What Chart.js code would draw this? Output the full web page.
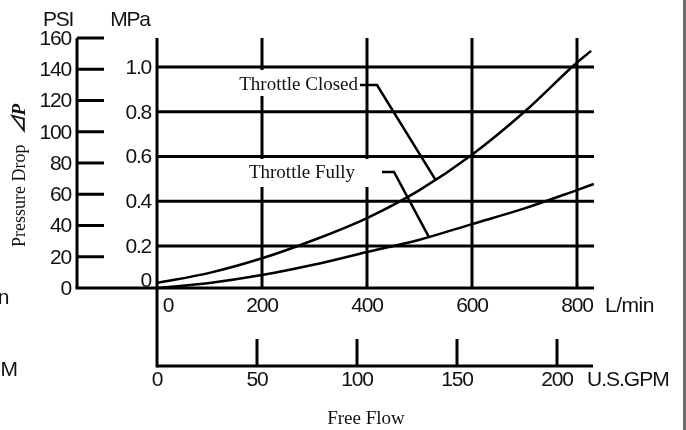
<html>

<head>
  <style>
    body { margin: 0; background: #fff; }
    canvas { display: block; }
  </style>
</head>

<body>
  <canvas id="dropChart" width="686" height="430"></canvas>

  <script src="https://cdn.jsdelivr.net/npm/chart.js"></script>
  <script>
    // flow in L/min, pressure drop in MPa
    const closedFlow = [0, 100, 200, 300, 400, 500, 600, 700, 800, 827];
    const closedMpa = [0.035, 0.08, 0.145, 0.228, 0.325, 0.45, 0.608, 0.80, 1.02, 1.072];
    const fullyFlow = [0, 100, 200, 300, 400, 500, 600, 700, 800, 832];
    const fullyMpa = [0.012, 0.035, 0.07, 0.117, 0.173, 0.228, 0.298, 0.368, 0.45, 0.477];

    // axis ticks
    const lpmTicks = [0, 200, 400, 600, 800];
    const gpmTicks = [0, 50, 100, 150, 200];
    const psiTicks = [0, 20, 40, 60, 80, 100, 120, 140, 160];
    const mpaTicks = [0, 0.2, 0.4, 0.6, 0.8, 1.0];

    const ink = '#111';
    const sans = '"Liberation Sans", Arial, sans-serif';
    const serif = '"Liberation Serif", "Times New Roman", serif';

    function line(ctx, x0, y0, x1, y1) {
      ctx.beginPath();
      ctx.moveTo(x0, y0);
      ctx.lineTo(x1, y1);
      ctx.stroke();
    }

    function label(ctx, text, x, y, align, font, spacing) {
      ctx.font = font;
      ctx.textAlign = align;
      ctx.textBaseline = 'middle';
      ctx.letterSpacing = spacing || '0px';
      ctx.fillText(text, x, y);
      ctx.letterSpacing = '0px';
    }

    // grid, the two pressure axes and the two flow axes
    const gridPlugin = {
      id: 'grid',
      beforeDraw(chart) {
        const ctx = chart.ctx;
        ctx.save();
        ctx.fillStyle = '#fff';
        ctx.fillRect(0, 0, chart.width, chart.height);
        ctx.restore();
      },
      beforeDatasetsDraw(chart) {
        const { ctx, chartArea, scales: { x, y, psi, gpm } } = chart;
        const psiX = 77, gpmY = 366, tick = 27;
        const x0 = x.getPixelForValue(0);
        const base = psi.getPixelForValue(0);
        ctx.save();
        ctx.strokeStyle = '#000';
        ctx.lineWidth = 3;

        lpmTicks.slice(1).forEach(v => {
          const px = x.getPixelForValue(v);
          line(ctx, px, chartArea.top, px, base);
        });
        mpaTicks.slice(1).forEach(v => {
          const py = y.getPixelForValue(v);
          line(ctx, x0, py, chartArea.right, py);
        });
        line(ctx, psiX - 1.5, base, chartArea.right, base);
        line(ctx, psiX, psi.getPixelForValue(160), psiX, base);
        psiTicks.slice(1).forEach(v => {
          const py = psi.getPixelForValue(v);
          line(ctx, psiX, py, psiX + tick, py);
        });
        line(ctx, x0, chartArea.top, x0, gpmY + 1.5);
        line(ctx, x0, gpmY, chartArea.right - 1, gpmY);
        gpmTicks.slice(1).forEach(v => {
          const px = gpm.getPixelForValue(v);
          line(ctx, px, gpmY - tick, px, gpmY);
        });

        // callout boxes blank out the grid behind their text
        ctx.fillStyle = '#fff';
        ctx.fillRect(233, 70, 129, 26);
        ctx.fillRect(244, 159, 130, 28);
        ctx.restore();
      },
      afterDatasetsDraw(chart) {
        const { ctx, scales: { x, y, psi, gpm } } = chart;
        const num = '21px ' + sans;
        ctx.save();
        ctx.fillStyle = ink;

        psiTicks.forEach(v => label(ctx, String(v), 71, psi.getPixelForValue(v) + 1, 'right', num, '-1.2px'));
        mpaTicks.forEach(v => {
          const py = y.getPixelForValue(v) + (v === 0 ? -10 : 1);
          label(ctx, v === 0 ? '0' : v.toFixed(1), 151, py, 'right', num, '-1.2px');
        });
        lpmTicks.forEach(v => {
          const px = x.getPixelForValue(v) + (v === 0 ? 11 : 0);
          label(ctx, String(v), px, 306, 'center', num, '-1.2px');
        });
        gpmTicks.forEach(v => label(ctx, String(v), gpm.getPixelForValue(v), 380, 'center', num, '-1.2px'));

        label(ctx, 'PSI', 58, 20, 'center', num, '-1.2px');
        label(ctx, 'MPa', 130, 20, 'center', num, '-1.2px');
        label(ctx, 'L/min', 605, 306, 'left', num, '-0.5px');
        label(ctx, 'U.S.GPM', 587, 380, 'left', num, '-1px');
        label(ctx, 'L/min', 9, 298, 'right', num, '-0.5px');
        label(ctx, 'U.S.GPM', 19, 370, 'right', num, '1px');
        label(ctx, 'Free Flow', 366, 419, 'center', '19px ' + serif);

        // rotated y title
        ctx.save();
        ctx.translate(25, 247);
        ctx.rotate(-Math.PI / 2);
        ctx.textAlign = 'left';
        ctx.textBaseline = 'alphabetic';
        ctx.font = '18px ' + serif;
        ctx.fillText('Pressure Drop', 0, 0);
        const w = ctx.measureText('Pressure Drop').width;
        ctx.font = 'italic bold 19px ' + serif + ', "Noto Sans CJK JP"';
        ctx.fillText('⊿P', w + 10, 0);
        ctx.restore();

        // callouts with leader lines to the curves
        label(ctx, 'Throttle Closed', 358, 85, 'right', '19px ' + serif);
        label(ctx, 'Throttle Fully', 355, 173, 'right', '19px ' + serif);
        ctx.strokeStyle = '#000';
        ctx.lineWidth = 2.5;
        ctx.beginPath();
        ctx.moveTo(360, 85);
        ctx.lineTo(377, 85);
        ctx.lineTo(x.getPixelForValue(530), y.getPixelForValue(0.498));
        ctx.stroke();
        ctx.beginPath();
        ctx.moveTo(382, 172);
        ctx.lineTo(394, 172);
        ctx.lineTo(x.getPixelForValue(518), y.getPixelForValue(0.240));
        ctx.stroke();

        ctx.restore();
      },
      afterDraw(chart) {
        const ctx = chart.ctx;
        ctx.save();
        ctx.fillStyle = '#6e6e6e';
        ctx.fillRect(683, 0, 3, chart.height);
        ctx.restore();
      }
    };

    const toPoints = (xs, ys) => xs.map((v, i) => ({ x: v, y: ys[i] }));

    new Chart(document.getElementById('dropChart'), {
      type: 'scatter',
      data: {
        datasets: [{
          label: 'Throttle Closed',
          data: toPoints(closedFlow, closedMpa),
          showLine: true,
          borderColor: '#000',
          borderWidth: 2.5,
          pointRadius: 0,
          cubicInterpolationMode: 'monotone',
          clip: false
        }, {
          label: 'Throttle Fully',
          data: toPoints(fullyFlow, fullyMpa),
          showLine: true,
          borderColor: '#000',
          borderWidth: 2.5,
          pointRadius: 0,
          cubicInterpolationMode: 'monotone',
          clip: false
        }]
      },
      options: {
        responsive: false,
        animation: false,
        events: [],
        layout: { padding: { left: 157, right: 92, top: 38, bottom: 142 } },
        plugins: {
          legend: { display: false },
          tooltip: { enabled: false }
        },
        scales: {
          x: { type: 'linear', min: 0, max: 832.4, display: false },
          // MPa zero sits a little below the PSI baseline
          y: { type: 'linear', min: 0.0123, max: 1.1296, display: false },
          psi: { type: 'linear', axis: 'y', position: 'left', min: 0, max: 160, display: false },
          gpm: { type: 'linear', axis: 'x', position: 'bottom', min: 0, max: 218.5, display: false }
        }
      },
      plugins: [gridPlugin]
    });
  </script>
</body>

</html>
